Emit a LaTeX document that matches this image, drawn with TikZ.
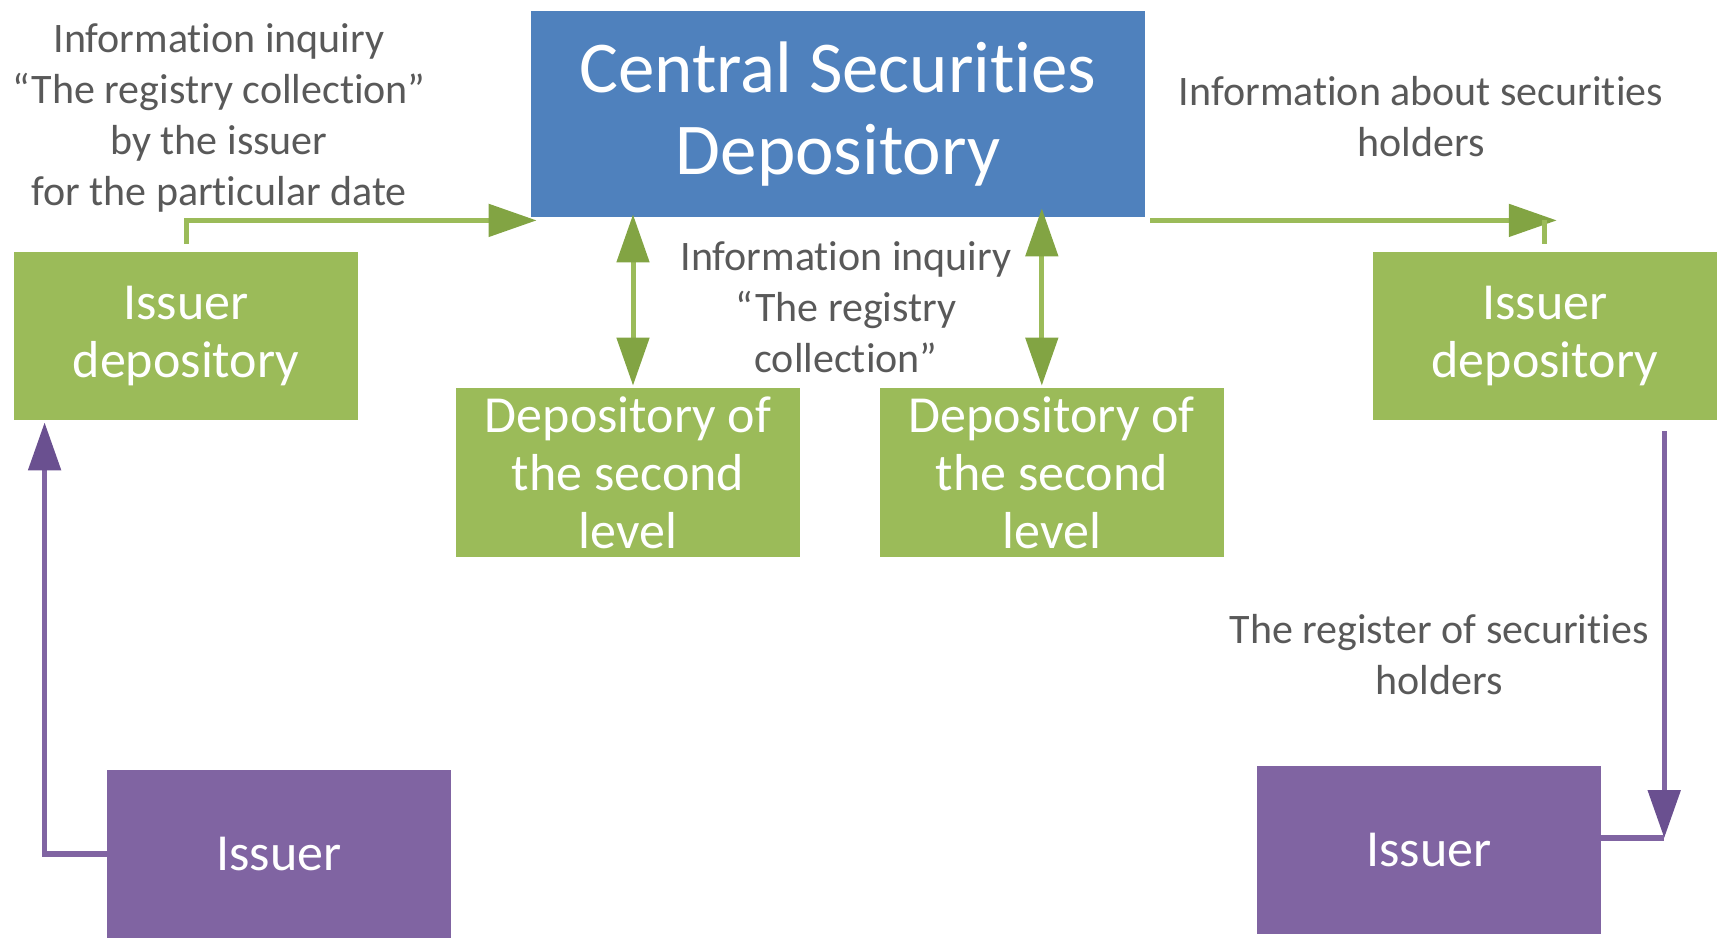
\documentclass[tikz,border=0pt]{standalone}
\usepackage{fontspec}
\setmainfont{Carlito}[RawFeature={-liga;-clig;-dlig;-calt}]
\usetikzlibrary{positioning,arrows.meta}
\definecolor{csdblue}{HTML}{4F81BD}
\definecolor{depgreen}{HTML}{9BBB59}
\definecolor{greenhead}{HTML}{82A443}
\definecolor{issuerpurple}{HTML}{8064A2}
\definecolor{purplehead}{HTML}{6A5090}
\definecolor{labelgray}{HTML}{595959}
\tikzstyle{central}=[rectangle, fill=csdblue, text=white, align=center, inner sep=0pt,
        minimum width=307pt, minimum height=103pt, font=\fontsize{36.5}{41}\selectfont]
\tikzstyle{depbox}=[rectangle, fill=depgreen, text=white, align=center, inner sep=0pt,
        minimum width=172pt, minimum height=84pt, font=\fontsize{26}{29}\selectfont]
\tikzstyle{issuerbox}=[depbox, fill=issuerpurple]
\tikzstyle{note}=[text=labelgray, align=center, inner sep=0pt, font=\fontsize{21}{25.5}\selectfont]
\tikzstyle{greenline}=[draw=depgreen, line width=2.5pt]
\tikzstyle{greenarrow}=[greenline, -{Triangle[length=24pt,width=16pt,color=greenhead]}]
\tikzstyle{greendouble}=[greenline, {Triangle[length=24pt,width=16pt,color=greenhead]}-{Triangle[length=24pt,width=16pt,color=greenhead]}]
\tikzstyle{purpleline}=[draw=issuerpurple, line width=2.7pt]
\tikzstyle{purplearrow}=[purpleline, -{Triangle[length=24pt,width=16pt,color=purplehead]}]

\begin{document}
\begin{tikzpicture}
    \useasboundingbox (0,0) rectangle (859pt,-468.5pt);

    \node (CSD) [central] at (419pt,-57pt) {Central Securities\\Depository};

    \node (IssuerDep1) [depbox] at (93pt,-168pt) {Issuer\\depository};
    \node (IssuerDep2) [depbox, right=507pt of IssuerDep1] {Issuer\\depository};

    \node (SecondLevel1) [depbox, minimum height=84.5pt] at (314pt,-236.25pt) {Depository of\\the second\\level};
    \node (SecondLevel2) [depbox, minimum height=84.5pt, right=39.5pt of SecondLevel1] {Depository of\\the second\\level};

    \node (Issuer1) [issuerbox] at (139.5pt,-427pt) {Issuer};
    \node (Issuer2) [issuerbox] at (714.5pt,-425pt) {Issuer};

    % labels
    \node (InquiryNote) [note] at (109.5pt,-58.75pt) {Information inquiry\\“The registry collection”\\by the issuer\\for the particular date};
    \node (HoldersNote) [note] at (710.5pt,-58.5pt) {Information about securities\\holders};
    \node (RegistryNote) [note] at (423pt,-153.5pt) {Information inquiry\\“The registry\\collection”};
    \node (RegisterNote) [note] at (719.5pt,-327.5pt) {The register of securities\\holders};

    % green connectors
    \draw[greenarrow] ([yshift=4pt]IssuerDep1.north) |- ([xshift=3pt,yshift=-1.5pt]CSD.south west);
    \coordinate (rcorner) at ([yshift=-1.5pt]CSD.south -| IssuerDep2.north);
    \draw[greenarrow] ([xshift=2.5pt,yshift=-1.5pt]CSD.south east) -- ([xshift=6pt]rcorner);
    \draw[greenline] ([yshift=4pt]IssuerDep2.north) -- (rcorner);
    \draw[greendouble] ([xshift=2.5pt,yshift=1pt]SecondLevel1.north) -- ([xshift=2.5pt,yshift=1.5pt]SecondLevel1.north |- CSD.south);
    \draw[greendouble] ([xshift=-5pt,yshift=1pt]SecondLevel2.north) -- ([xshift=-5pt,yshift=4.5pt]SecondLevel2.north |- CSD.south);

    % purple connectors
    \draw[purplearrow] (Issuer1.west) -| ([xshift=15.5pt,yshift=-1pt]IssuerDep1.south west);
    \coordinate (rtop) at ([xshift=-26.5pt,yshift=-5.5pt]IssuerDep2.south east);
    \coordinate (rbend) at ([yshift=6pt]Issuer2.east -| rtop);
    \draw[purplearrow] (rtop) -- (rbend);
    \draw[purpleline] ([yshift=6pt]Issuer2.east) -- (rbend);

\end{tikzpicture}
\end{document}
